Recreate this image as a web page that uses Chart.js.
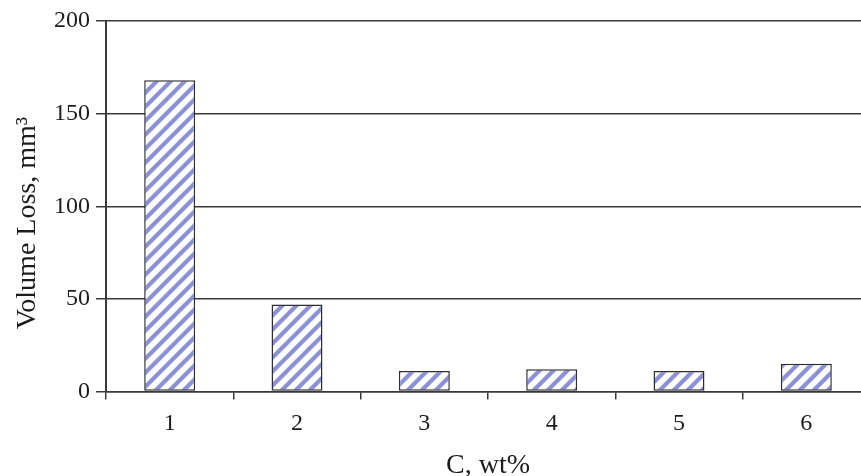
<!DOCTYPE html>
<html>
<head>
<meta charset="utf-8">
<script src="https://cdn.jsdelivr.net/npm/chart.js@4"></script>
<style>
  html, body { margin: 0; padding: 0; background: #fff; overflow: hidden; }
</style>
</head>
<body>
<canvas id="mycanvas" width="880" height="476"></canvas>
<script>
var categories = ['1', '2', '3', '4', '5', '6'];
var volumeLoss = [168, 47, 11, 12, 11, 15];
var yTickValues = [0, 50, 100, 150, 200];

var xTitle = 'C, wt%';
// trailing spaces push the rotated title a bit lower, like the original
var yTitle = 'Volume Loss, mm\u00b3    \u2009';

// diagonal hatch fill for the bars
function makeHatch() {
    var s = 14;
    var c = document.createElement('canvas');
    c.width = s;
    c.height = s;
    var g = c.getContext('2d');
    g.fillStyle = '#ffffff';
    g.fillRect(0, 0, s, s);
    g.strokeStyle = 'rgb(140, 145, 214)';
    g.lineWidth = 4.2;
    g.beginPath();
    g.moveTo(-2, s + 2); g.lineTo(s + 2, -2);
    g.moveTo(-3, 3); g.lineTo(3, -3);
    g.moveTo(s - 3, s + 3); g.lineTo(s + 3, s - 3);
    g.stroke();
    return g.createPattern(c, 'repeat');
}

var serif = '"Liberation Serif", "DejaVu Serif", serif';
var lineColor = '#3a3a3a';
var textColor = '#1c1c1c';

var ctx = document.getElementById('mycanvas');
var barGraph = new Chart(ctx, {
    type: 'bar',
    data: {
        labels: categories,
        datasets: [{
            label: 'Volume Loss',
            data: volumeLoss,
            backgroundColor: makeHatch(),
            borderColor: '#2e2e2e',
            borderWidth: 1.5,
            borderSkipped: false,
            barPercentage: 0.4,
            categoryPercentage: 1.0
        }]
    },
    options: {
        responsive: false,
        animation: false,
        devicePixelRatio: 1,
        layout: { padding: { top: 21, right: 10, left: 0, bottom: 0 } },
        plugins: {
            legend: { display: false },
            tooltip: { enabled: false }
        },
        scales: {
            x: {
                grid: {
                    drawOnChartArea: false,
                    drawTicks: true,
                    tickLength: 8,
                    color: lineColor,
                    lineWidth: 1.5
                },
                border: { color: lineColor, width: 1.5 },
                ticks: {
                    color: textColor,
                    padding: 10,
                    font: { family: serif, size: 24 }
                },
                title: {
                    display: true,
                    text: xTitle,
                    color: textColor,
                    padding: { top: 0, bottom: -6 },
                    font: { family: serif, size: 28 }
                },
                afterFit: function(scale) { scale.height = 84.5; }
            },
            y: {
                min: 0,
                max: 200,
                afterBuildTicks: function(scale) {
                    scale.ticks = yTickValues.map(function(v) { return { value: v }; });
                },
                grid: {
                    color: lineColor,
                    lineWidth: 1.5,
                    tickLength: 10
                },
                border: { color: lineColor, width: 2 },
                ticks: {
                    color: textColor,
                    padding: 6,
                    font: { family: serif, size: 24 }
                },
                title: {
                    display: true,
                    text: yTitle,
                    color: textColor,
                    padding: { top: 11, bottom: 0 },
                    font: { family: serif, size: 28 }
                },
                afterFit: function(scale) { scale.width = 106; }
            }
        }
    }
});
</script>
</body>
</html>
